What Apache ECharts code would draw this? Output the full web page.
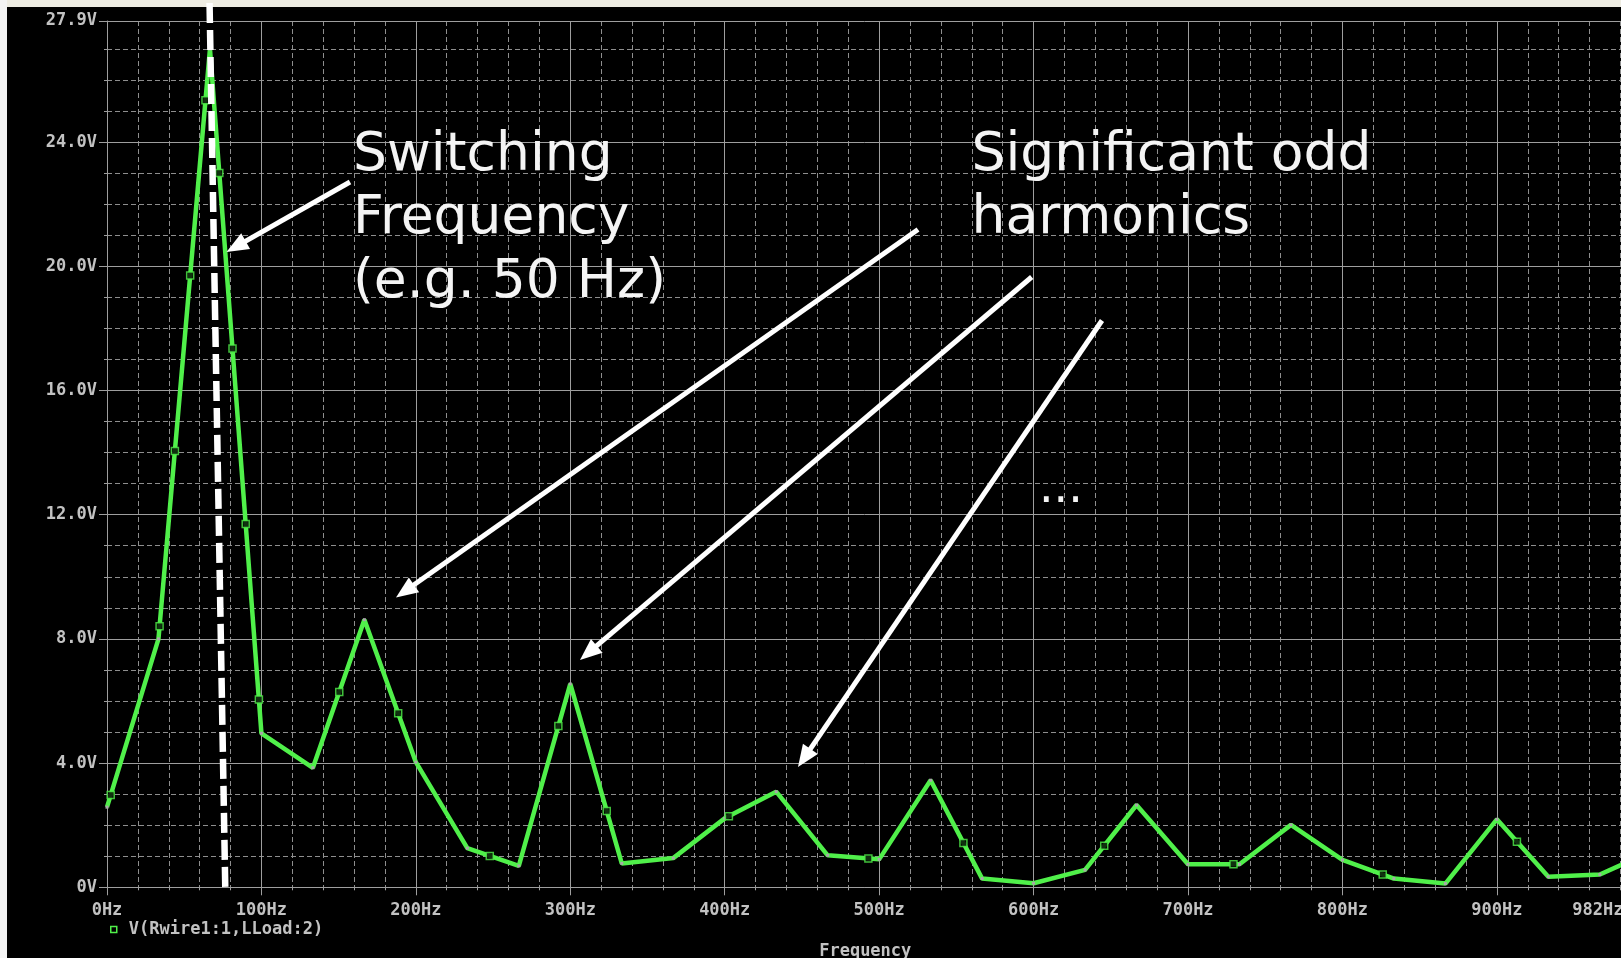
<!DOCTYPE html>
<html>
<head>
<meta charset="utf-8">
<title>FFT – V(Rwire1:1,LLoad:2)</title>
<script src="https://cdn.jsdelivr.net/npm/echarts@6/dist/echarts.min.js"></script>
<style>
  html, body { margin: 0; padding: 0; background: #000; overflow: hidden; }
  #chart { width: 1621px; height: 958px; }
</style>
</head>
<body>
<div id="chart"></div>
<script>
// FFT spectrum of the load voltage, one bin every 33.33 Hz
const freqHz = [0, 33.33, 66.67, 100, 133.33, 166.67, 200, 233.33, 266.67, 300,
                333.33, 366.67, 400, 433.33, 466.67, 500, 533.33, 566.67, 600, 633.33,
                666.67, 700, 733.33, 766.67, 800, 833.33, 866.67, 900, 933.33, 966.67, 1000];
const volts  = [2.58, 8.0, 27.0, 4.96, 3.85, 8.62, 4.03, 1.26, 0.69, 6.55,
                0.77, 0.94, 2.22, 3.08, 1.03, 0.90, 3.45, 0.28, 0.13, 0.56,
                2.65, 0.74, 0.74, 2.01, 0.88, 0.28, 0.12, 2.19, 0.34, 0.41, 1.16];

const SERIES_NAME = 'V(Rwire1:1,LLoad:2)';
const X_MAX = 982;          // Hz, last tick label "982Hz"
const Y_MAX = 27.9;         // V, last tick label "27.9V"
const X_MAJOR = 100, X_MINOR = 20;
const Y_MAJOR = 4,   Y_MINOR = 1;
const AXIS_TITLE = 'Frequency';

// callout texts
const switchingText = ['Switching', 'Frequency', '(e.g. 50 Hz)'];
const harmonicsText = ['Significant odd', 'harmonics'];
const ellipsisText  = '...';

// colours / styling
const TRACE = '#50f04a';
const GRID_GRAY = '#9e9e9e';
const DASH_GRAY = '#8e8e8e';
const LABEL_GRAY = '#c2c2c2';
const mono = { fontFamily: 'DejaVu Sans Mono', fontWeight: 'bold', fontSize: 17, color: LABEL_GRAY };

const chart = echarts.init(document.getElementById('chart'), null, { renderer: 'canvas' });

function fmtVolt(v) { return v === 0 ? '0V' : v.toFixed(1) + 'V'; }
function fmtHz(v) { return Math.round(v) + 'Hz'; }

// arrow made of a thick shaft and a filled head
function arrow(tail, tip) {
  const dx = tip[0] - tail[0], dy = tip[1] - tail[1];
  const L = Math.hypot(dx, dy), ux = dx / L, uy = dy / L;
  const headLen = 22, halfW = 9;
  const bx = tip[0] - ux * headLen, by = tip[1] - uy * headLen;
  return [
    { type: 'line', z: 100, silent: true,
      shape: { x1: tail[0], y1: tail[1], x2: bx + ux * 3, y2: by + uy * 3 },
      style: { stroke: '#ffffff', lineWidth: 5 } },
    { type: 'polygon', z: 100, silent: true,
      shape: { points: [tip, [bx - uy * halfW, by + ux * halfW], [bx + uy * halfW, by - ux * halfW]] },
      style: { fill: '#ffffff' } }
  ];
}

const calloutFont = '53.5px "DejaVu Sans"';

const graphics = [
  // window frame strips
  { type: 'rect', z: 90, silent: true, shape: { x: 0, y: 0, width: 1621, height: 7 }, style: { fill: '#eeece2' } },
  { type: 'rect', z: 90, silent: true, shape: { x: 0, y: 0, width: 7, height: 958 }, style: { fill: '#f4f4f4' } },
  // dashed marker through the switching frequency
  { type: 'line', z: 100, silent: true,
    shape: { x1: 209.5, y1: 0, x2: 225.3, y2: 889 },
    style: { stroke: '#ffffff', lineWidth: 6.5, lineDash: [20, 7], lineDashOffset: -3, lineCap: 'butt' } },
  ...arrow([350, 182], [226.5, 252]),
  ...arrow([918, 229.5], [396, 597.5]),
  ...arrow([1031.7, 277], [580, 660]),
  ...arrow([1102, 320.5], [798, 767]),
  { type: 'text', z: 100, silent: true, x: 353, y: 124,
    style: { text: switchingText.join('\n'), font: calloutFont, fill: '#f4f4f4', lineHeight: 63.5, verticalAlign: 'top' } },
  { type: 'text', z: 100, silent: true, x: 971.5, y: 124,
    style: { text: harmonicsText.join('\n'), font: calloutFont, fill: '#f4f4f4', lineHeight: 63.5, verticalAlign: 'top' } },
  { type: 'text', z: 100, silent: true, x: 1039, y: 490,
    style: { text: ellipsisText, font: '46px "DejaVu Sans"', fill: '#f4f4f4', verticalAlign: 'middle' } }
];

const option = {
  backgroundColor: '#000000',
  animation: false,
  grid: { left: 107, top: 21, right: -2.5, bottom: 70.7, containLabel: false, outerBoundsMode: 'none' },
  legend: {
    show: true, left: 110, top: 921, padding: 0,
    itemWidth: 6, itemHeight: 6, selectedMode: false,
    data: [{ name: SERIES_NAME, icon: 'rect',
             itemStyle: { color: '#000000', borderColor: TRACE, borderWidth: 1.5 } }],
    textStyle: Object.assign({}, mono, { padding: [0, 0, 0, 7] })
  },
  xAxis: [
    { // minor dashed grid
      type: 'value', position: 'bottom', min: 0, max: X_MAX, interval: X_MINOR, z: 0,
      axisLine: { show: false, onZero: false },
      axisTick: { show: true, length: 3, lineStyle: { color: GRID_GRAY } },
      axisLabel: { show: false },
      splitLine: { show: true, lineStyle: { color: DASH_GRAY, width: 1, type: [5, 3] } }
    },
    { // major grid, labels and title
      type: 'value', position: 'bottom', min: 0, max: X_MAX, interval: X_MAJOR, z: 1,
      axisLine: { show: true, onZero: false, lineStyle: { color: GRID_GRAY, width: 1 } },
      axisTick: { show: true, length: 8, lineStyle: { color: GRID_GRAY } },
      axisLabel: Object.assign({}, mono, { margin: 15, interval: 0, formatter: fmtHz,
                                            showMaxLabel: true, alignMaxLabel: 'right' }),
      splitLine: { show: true, lineStyle: { color: GRID_GRAY, width: 1, type: 'solid' } },
      name: AXIS_TITLE, nameLocation: 'middle', nameGap: 56,
      nameTextStyle: Object.assign({}, mono)
    }
  ],
  yAxis: [
    {
      type: 'value', position: 'left', min: 0, max: Y_MAX, interval: Y_MINOR, z: 0,
      axisLine: { show: false, onZero: false },
      axisTick: { show: true, length: 3, lineStyle: { color: GRID_GRAY } },
      axisLabel: { show: false },
      splitLine: { show: true, lineStyle: { color: DASH_GRAY, width: 1, type: [5, 3] } }
    },
    {
      type: 'value', position: 'left', min: 0, max: Y_MAX, interval: Y_MAJOR, z: 1,
      axisLine: { show: true, onZero: false, lineStyle: { color: GRID_GRAY, width: 1 } },
      axisTick: { show: true, length: 8, lineStyle: { color: GRID_GRAY } },
      axisLabel: Object.assign({}, mono, { margin: 10, formatter: fmtVolt, showMaxLabel: true }),
      splitLine: { show: true, lineStyle: { color: GRID_GRAY, width: 1, type: 'solid' } }
    }
  ],
  series: [
    {
      type: 'line', name: SERIES_NAME, xAxisIndex: 1, yAxisIndex: 1, z: 3,
      data: freqHz.map((f, i) => [f, volts[i]]),
      showSymbol: true, showAllSymbol: true, symbol: 'rect', symbolSize: 3,
      itemStyle: { color: '#a8a8a8' },
      lineStyle: { color: TRACE, width: 4.5 },
      emphasis: { disabled: true }, silent: true, clip: true
    },
    {
      type: 'scatter', name: 'trace markers', xAxisIndex: 1, yAxisIndex: 1, z: 4,
      data: [], symbol: 'rect', symbolSize: 7,
      itemStyle: { color: '#000000', borderColor: TRACE, borderWidth: 1.5 },
      emphasis: { disabled: true }, silent: true, clip: true
    }
  ],
  graphic: { elements: graphics }
};

chart.setOption(option);

// Trace symbols are laid out at equal path-length steps along the drawn polyline
const MARKER_START = 12.7, MARKER_STEP = 176;
const finder = { xAxisIndex: 1, yAxisIndex: 1 };
const px = freqHz.map((f, i) => chart.convertToPixel(finder, [f, volts[i]]));
const markers = [];
let travelled = 0, nextAt = MARKER_START;
for (let i = 1; i < px.length; i++) {
  const a = px[i - 1], b = px[i];
  const segLen = Math.hypot(b[0] - a[0], b[1] - a[1]);
  while (nextAt <= travelled + segLen) {
    const t = (nextAt - travelled) / segLen;
    const p = [a[0] + (b[0] - a[0]) * t, a[1] + (b[1] - a[1]) * t];
    const d = chart.convertFromPixel(finder, p);
    if (d[0] <= X_MAX) markers.push(d);
    nextAt += MARKER_STEP;
  }
  travelled += segLen;
}
chart.setOption({ series: [{}, { data: markers }] });
</script>
</body>
</html>
